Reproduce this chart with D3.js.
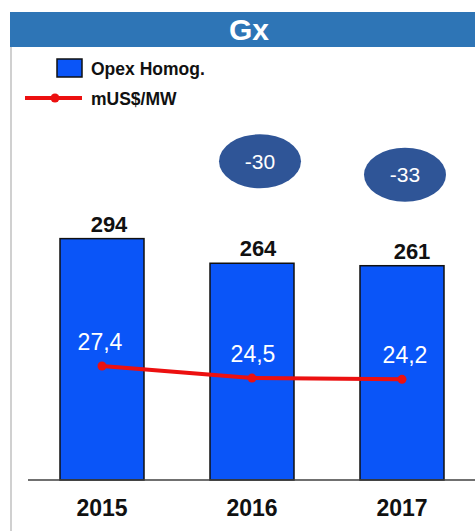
<!DOCTYPE html>
<html>
<head>
<meta charset="utf-8">
<script src="https://cdn.jsdelivr.net/npm/d3@7"></script>
<style>
  body { margin: 0; background: #fff; }
  svg { display: block; font-family: "Liberation Sans", Arial, sans-serif; }
</style>
</head>
<body>
<svg id="chart"></svg>
<script>
var years = ["2015", "2016", "2017"];
var opex = [294, 264, 261];
var perMW = [27.4, 24.5, 24.2];
var deltas = [null, -30, -33];
var perMWLabels = ["27,4", "24,5", "24,2"];

var width = 475, height = 531;
var baseY = 480;

var svg = d3.select("#chart").attr("width", width).attr("height", height);

// frame + title bar
svg.append("line")
    .attr("x1", 11).attr("x2", 11).attr("y1", 47).attr("y2", height)
    .attr("stroke", "#c0c0c0").attr("stroke-width", 1.5);
svg.append("rect")
    .attr("x", 10).attr("y", 12).attr("width", width - 10).attr("height", 35)
    .attr("fill", "#2e75b6");
svg.append("text")
    .attr("x", 249).attr("y", 40)
    .attr("text-anchor", "middle")
    .attr("fill", "#fff").attr("font-weight", "bold").attr("font-size", 30)
    .text("Gx");

var x = d3.scaleBand().domain(years).range([27, 477]).paddingInner(0.44).paddingOuter(0.22);
var y = d3.scaleLinear().domain([0, 350]).range([baseY, baseY - 350 * 0.821]);
var y2 = d3.scaleLinear().domain([0, 70]).range([baseY, baseY - 70 * 4.16]);

// bars
svg.selectAll("rect.bar")
    .data(opex)
    .enter().append("rect")
    .attr("class", "bar")
    .attr("x", (d, i) => x(years[i]))
    .attr("y", d => y(d))
    .attr("width", x.bandwidth())
    .attr("height", d => baseY - y(d))
    .attr("fill", "#0a55f8")
    .attr("stroke", "#111").attr("stroke-width", 1.5);

// x axis
svg.append("line")
    .attr("x1", 28).attr("x2", width).attr("y1", baseY).attr("y2", baseY)
    .attr("stroke", "#404040").attr("stroke-width", 1.5);

var xAxis = svg.append("g")
    .attr("transform", "translate(0," + baseY + ")")
    .call(d3.axisBottom(x).tickSize(0).tickPadding(20));
xAxis.select(".domain").remove();
xAxis.selectAll("text")
    .attr("font-family", "Liberation Sans, Arial, sans-serif")
    .attr("font-size", 23).attr("font-weight", "bold").attr("fill", "#111")
    .attr("dy", "0.71em");

// bar value labels
svg.selectAll("text.val")
    .data(opex)
    .enter().append("text")
    .attr("class", "val")
    .attr("x", (d, i) => x(years[i]) + x.bandwidth() / 2 + [7, 6, 10][i])
    .attr("y", d => y(d) - 7)
    .attr("text-anchor", "middle")
    .attr("font-size", 22).attr("font-weight", "bold").attr("fill", "#111")
    .text(d => d);

// line
var cx = (d, i) => x(years[i]) + x.bandwidth() / 2;
var line = d3.line().x(cx).y(d => y2(d));
svg.append("path")
    .datum(perMW)
    .attr("d", line)
    .attr("fill", "none")
    .attr("stroke", "#ec1010").attr("stroke-width", 4);
svg.selectAll("circle.pt")
    .data(perMW)
    .enter().append("circle")
    .attr("class", "pt")
    .attr("cx", cx)
    .attr("cy", d => y2(d))
    .attr("r", 4.5)
    .attr("fill", "#ec1010");
svg.selectAll("text.pm")
    .data(perMW)
    .enter().append("text")
    .attr("class", "pm")
    .attr("x", (d, i) => cx(d, i) + [-2, 1, 3][i])
    .attr("y", d => y2(d) - 16)
    .attr("text-anchor", "middle")
    .attr("font-size", 23).attr("fill", "#fff")
    .text((d, i) => perMWLabels[i]);

// delta badges
var badgeDx = [0, 8, 3];
var badgeDy = [0, -102, -91];
var badges = svg.selectAll("g.badge")
    .data(deltas.map((d, i) => ({ d: d, i: i })).filter(o => o.d !== null))
    .enter().append("g")
    .attr("class", "badge")
    .attr("transform", o => "translate(" + (cx(0, o.i) + badgeDx[o.i]) + "," + (y(opex[o.i]) + badgeDy[o.i]) + ")");
badges.append("ellipse")
    .attr("rx", 41).attr("ry", 27)
    .attr("fill", "#2f5597");
badges.append("text")
    .attr("text-anchor", "middle").attr("dy", "0.36em")
    .attr("font-size", 21).attr("fill", "#fff")
    .text(o => o.d);

// legend
svg.append("rect")
    .attr("x", 57).attr("y", 59).attr("width", 25).attr("height", 18)
    .attr("fill", "#0a55f8").attr("stroke", "#111").attr("stroke-width", 1.5);
svg.append("text")
    .attr("x", 91).attr("y", 75)
    .attr("font-size", 17.5).attr("font-weight", "bold").attr("fill", "#111")
    .text("Opex Homog.");
svg.append("line")
    .attr("x1", 25).attr("x2", 82).attr("y1", 98).attr("y2", 98)
    .attr("stroke", "#ec1010").attr("stroke-width", 4);
svg.append("circle")
    .attr("cx", 55).attr("cy", 98).attr("r", 4.5).attr("fill", "#ec1010");
svg.append("text")
    .attr("x", 91).attr("y", 105)
    .attr("font-size", 17.5).attr("font-weight", "bold").attr("fill", "#111")
    .text("mUS$/MW");
</script>
</body>
</html>
